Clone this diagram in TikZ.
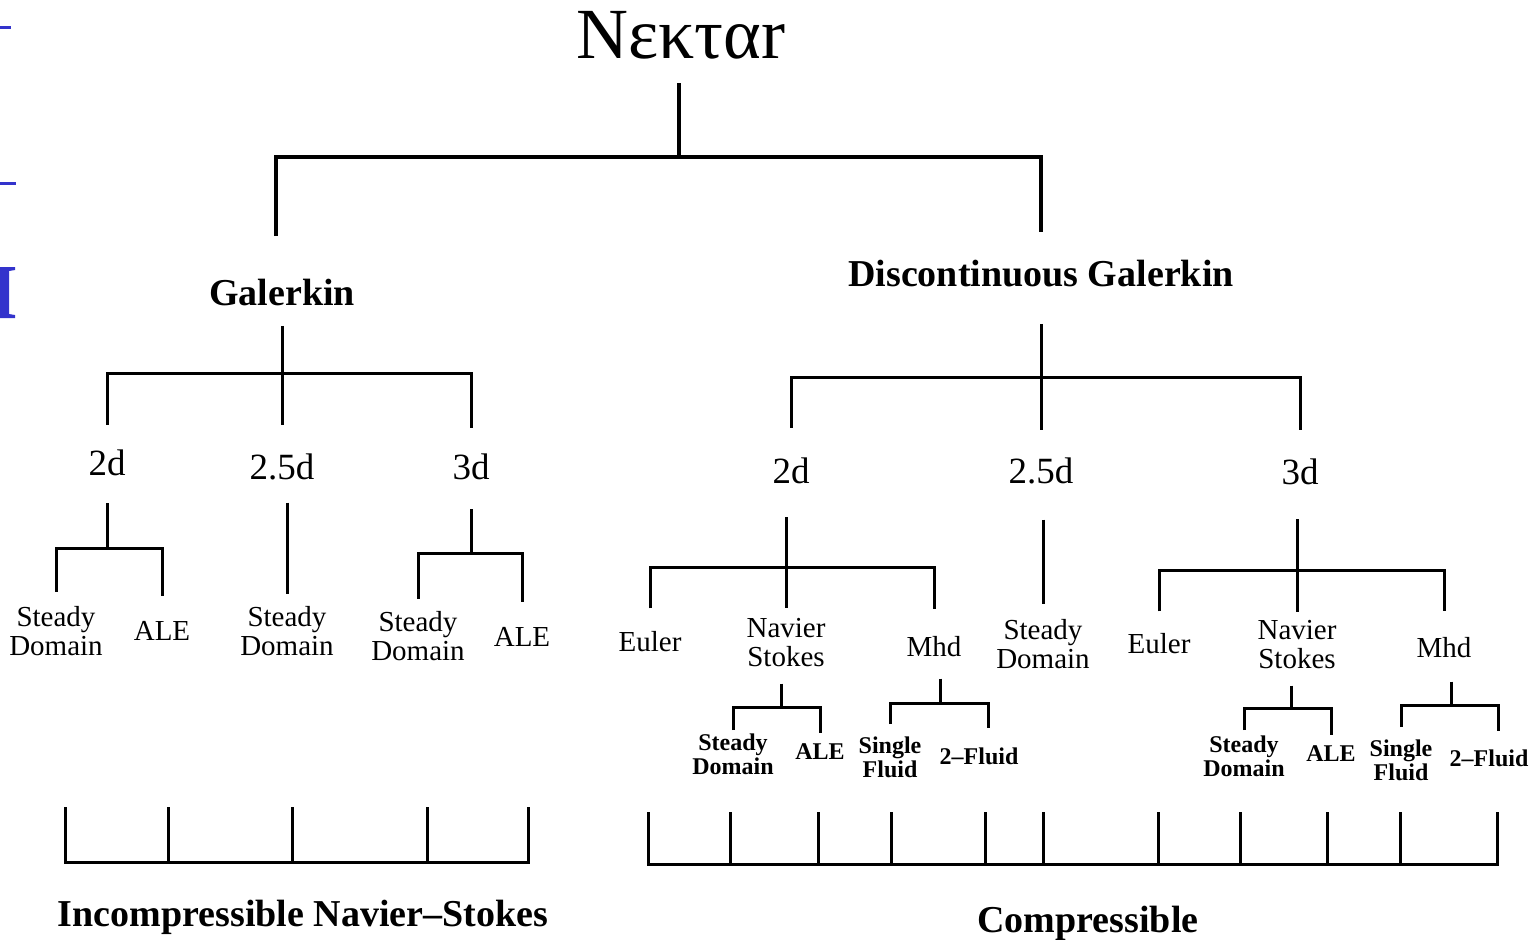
\documentclass[tikz,border=0pt]{standalone}
\usepackage{fontspec}
\setmainfont{Liberation Serif}
\definecolor{slideblue}{RGB}{51,51,204}
\tikzset{
  trunk/.style={line width=2.3pt},
  branch/.style={line width=1.5pt},
  ttl/.style={font=\fontsize{36}{36}\selectfont, inner sep=0pt},
  hd/.style={font=\fontsize{19}{19}\selectfont\bfseries, inner sep=0pt},
  dimlbl/.style={font=\fontsize{18.5}{18.5}\selectfont, inner sep=0pt},
  leaf/.style={font=\fontsize{14.5}{14.5}\selectfont, align=center, inner sep=0pt},
  subleaf/.style={font=\fontsize{12}{12}\selectfont\bfseries, align=center, inner sep=0pt},
  foot/.style={font=\fontsize{19}{19}\selectfont\bfseries, inner sep=0pt}
}

\begin{document}
\begin{tikzpicture}[x=0.5pt, y=-0.5pt]
\useasboundingbox (0,0) rectangle (1540,939);

% cut-off marks of the slide
\fill[slideblue] (0,25.5) rectangle (11,28.5);
\fill[slideblue] (0,181.5) rectangle (16,184.5);
\fill[slideblue] (0,267) -- (15,267) -- (15,270) -- (9,271) -- (9,314) -- (15,315) -- (15,318) -- (0,318) -- cycle;

% top levels
\node[ttl] (nek) at (681,35) {Nεκταr};
\node[hd] (gal) at (282,292) {Galerkin};
\node[hd] (dg) at (1041,274) {Discontinuous Galerkin};

\coordinate (topbar) at (679,157);
\draw[trunk, shorten <=12pt] ([xshift=-1pt]nek.south) -- (topbar);
\draw[trunk, shorten <=21pt, shorten >=14pt] ([xshift=-3pt]gal.north) |- (topbar) -| (dg.north);

% Galerkin
\node[dimlbl] (g2d) at (107,463) {2d};
\node[dimlbl] (g25) at (282,467) {2.5d};
\node[dimlbl] (g3d) at (471,467) {3d};
\coordinate (gbar) at (282,373);
\draw[branch, shorten <=10pt] (gal.south) -- (gbar);
\draw[branch, shorten <=12.5pt, shorten >=13pt] (g2d.north) |- (gbar) -| (g3d.north);
\draw[branch, shorten >=14.5pt] (gbar) -- (g25.north);

\node[leaf] (g2sd) at (56,631) {Steady\\Domain};
\node[leaf] (g2ale) at (162,631) {ALE};
\coordinate (g2bar) at (107,548);
\draw[branch, shorten <=13.5pt] (g2d.south) -- (g2bar);
\draw[branch, shorten <=7pt, shorten >=12.5pt] (g2sd.north) |- (g2bar) -| (g2ale.north);

\node[leaf] (g25sd) at (287,631) {Steady\\Domain};
\draw[branch, shorten <=11pt, shorten >=6pt] ([xshift=2.5pt]g25.south) -- (g25sd.north);

\node[leaf] (g3sd) at (418,636) {Steady\\Domain};
\node[leaf] (g3ale) at (522,637) {ALE};
\coordinate (g3bar) at (471,553);
\draw[branch, shorten <=14.5pt] (g3d.south) -- (g3bar);
\draw[branch, shorten <=6pt, shorten >=12.5pt] (g3sd.north) |- (g3bar) -| (g3ale.north);

% Discontinuous Galerkin
\node[dimlbl] (d2d) at (791,471) {2d};
\node[dimlbl] (d25) at (1041,471) {2.5d};
\node[dimlbl] (d3d) at (1300,472) {3d};
\coordinate (dbar) at (1041,377);
\draw[branch, shorten <=18pt] (dg.south) -- (dbar);
\draw[branch, shorten <=15pt, shorten >=14.5pt] (d2d.north) |- (dbar) -| (d3d.north);
\draw[branch, shorten >=14pt] (dbar) -- (d25.north);

\node[leaf] (d2eu) at (650,642) {Euler};
\node[leaf] (d2ns) at (786,643) {Navier\\Stokes};
\node[leaf] (d2mhd) at (934,647) {Mhd};
\coordinate (d2bar) at (786,567);
\draw[branch, shorten <=16.5pt] ([xshift=-2.5pt]d2d.south) -- (d2bar);
\draw[branch, shorten <=11.5pt, shorten >=13.5pt] (d2eu.north) |- (d2bar) -| (d2mhd.north);
\draw[branch, shorten >=5pt] (d2bar) -- (d2ns.north);

\node[leaf] (d25sd) at (1043,644) {Steady\\Domain};
\draw[branch, shorten <=17.5pt, shorten >=7.5pt] ([xshift=1pt]d25.south) -- (d25sd.north);

\node[leaf] (d3eu) at (1159,644) {Euler};
\node[leaf] (d3ns) at (1297,645) {Navier\\Stokes};
\node[leaf] (d3mhd) at (1444,648) {Mhd};
\coordinate (d3bar) at (1297,570);
\draw[branch, shorten <=17pt] ([xshift=-1.5pt]d3d.south) -- (d3bar);
\draw[branch, shorten <=11pt, shorten >=13pt] (d3eu.north) |- (d3bar) -| (d3mhd.north);
\draw[branch, shorten >=4pt] (d3bar) -- (d3ns.north);

% third level
\node[subleaf] (n2sd) at (733,754) {Steady\\Domain};
\node[subleaf] (n2ale) at (820,752) {ALE};
\coordinate (n2bar) at (781,707);
\draw[branch, shorten <=8pt] ([xshift=-2.5pt]d2ns.south) -- (n2bar);
\draw[branch, shorten <=1.5pt, shorten >=5.5pt] (n2sd.north) |- (n2bar) -| (n2ale.north);

\node[subleaf] (m2sf) at (890,757) {Single\\Fluid};
\node[subleaf] (m2tf) at (979,756) {2--Fluid};
\coordinate (m2bar) at (940,703);
\draw[branch, shorten <=10.5pt] ([xshift=3pt]d2mhd.south) -- (m2bar);
\draw[branch, shorten <=6pt, shorten >=9.5pt] (m2sf.north) |- (m2bar) -| ([xshift=4.5pt]m2tf.north);

\node[subleaf] (n3sd) at (1244,756) {Steady\\Domain};
\node[subleaf] (n3ale) at (1331,754) {ALE};
\coordinate (n3bar) at (1291,708);
\draw[branch, shorten <=8pt] ([xshift=-3pt]d3ns.south) -- (n3bar);
\draw[branch, shorten <=2.5pt, shorten >=5.5pt] (n3sd.north) |- (n3bar) -| (n3ale.north);

\node[subleaf] (m3sf) at (1401,760) {Single\\Fluid};
\node[subleaf] (m3tf) at (1489,758) {2--Fluid};
\coordinate (m3bar) at (1451,705);
\draw[branch, shorten <=11.5pt] ([xshift=3.5pt]d3mhd.south) -- (m3bar);
\draw[branch, shorten <=6pt, shorten >=9pt] (m3sf.north) |- (m3bar) -| ([xshift=4.5pt]m3tf.north);

% bottom brackets
\node[foot] (inc) at (303,917) {Incompressible Navier--Stokes};
\node[foot] (cmp) at (1088,923) {Compressible};
\draw[branch] (65,807) -- (65,862) -- (528,862) -- (528,807);
\foreach \x in {168,292,427} \draw[branch] (\x,807) -- (\x,862);
\draw[branch] (648,812) -- (648,864) -- (1497,864) -- (1497,812);
\foreach \x in {730,818,891,985,1043,1158,1240,1327,1400} \draw[branch] (\x,812) -- (\x,864);
\end{tikzpicture}
\end{document}
